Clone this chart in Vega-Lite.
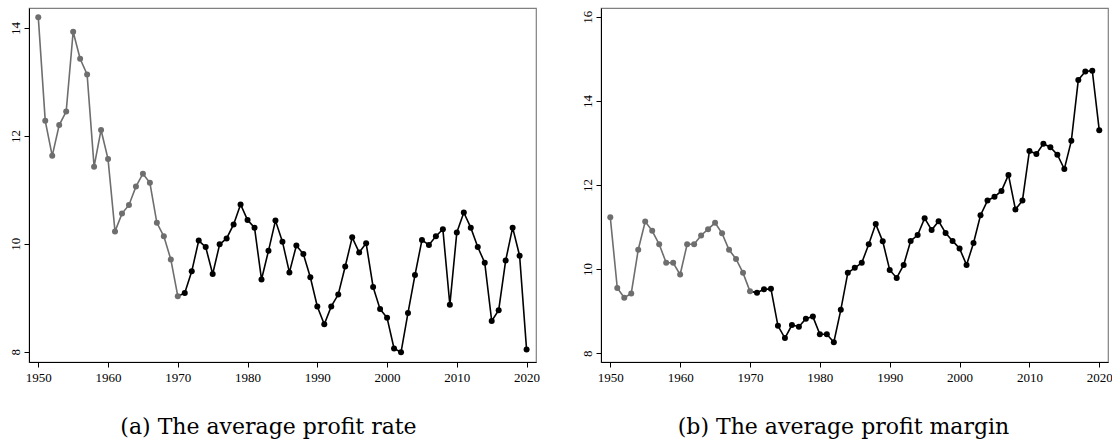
{
  "$schema": "https://vega.github.io/schema/vega-lite/v6.json",
  "padding": {"left": 8, "top": 7, "right": 0, "bottom": 0},
  "background": "white",
  "spacing": 39,
  "datasets": {
    "rate": [
      {"year": 1950, "value": 14.20, "period": "early"},
      {"year": 1951, "value": 12.28, "period": "early"},
      {"year": 1952, "value": 11.63, "period": "early"},
      {"year": 1953, "value": 12.20, "period": "early"},
      {"year": 1954, "value": 12.45, "period": "early"},
      {"year": 1955, "value": 13.93, "period": "early"},
      {"year": 1956, "value": 13.43, "period": "early"},
      {"year": 1957, "value": 13.14, "period": "early"},
      {"year": 1958, "value": 11.43, "period": "early"},
      {"year": 1959, "value": 12.11, "period": "early"},
      {"year": 1960, "value": 11.57, "period": "early"},
      {"year": 1961, "value": 10.23, "period": "early"},
      {"year": 1962, "value": 10.56, "period": "early"},
      {"year": 1963, "value": 10.72, "period": "early"},
      {"year": 1964, "value": 11.06, "period": "early"},
      {"year": 1965, "value": 11.30, "period": "early"},
      {"year": 1966, "value": 11.13, "period": "early"},
      {"year": 1967, "value": 10.39, "period": "early"},
      {"year": 1968, "value": 10.14, "period": "early"},
      {"year": 1969, "value": 9.71, "period": "early"},
      {"year": 1970, "value": 9.03, "period": "early"},
      {"year": 1970, "value": 9.03, "period": "late"},
      {"year": 1971, "value": 9.09, "period": "late"},
      {"year": 1972, "value": 9.49, "period": "late"},
      {"year": 1973, "value": 10.06, "period": "late"},
      {"year": 1974, "value": 9.94, "period": "late"},
      {"year": 1975, "value": 9.44, "period": "late"},
      {"year": 1976, "value": 9.99, "period": "late"},
      {"year": 1977, "value": 10.10, "period": "late"},
      {"year": 1978, "value": 10.36, "period": "late"},
      {"year": 1979, "value": 10.73, "period": "late"},
      {"year": 1980, "value": 10.44, "period": "late"},
      {"year": 1981, "value": 10.30, "period": "late"},
      {"year": 1982, "value": 9.34, "period": "late"},
      {"year": 1983, "value": 9.87, "period": "late"},
      {"year": 1984, "value": 10.43, "period": "late"},
      {"year": 1985, "value": 10.04, "period": "late"},
      {"year": 1986, "value": 9.47, "period": "late"},
      {"year": 1987, "value": 9.97, "period": "late"},
      {"year": 1988, "value": 9.81, "period": "late"},
      {"year": 1989, "value": 9.38, "period": "late"},
      {"year": 1990, "value": 8.84, "period": "late"},
      {"year": 1991, "value": 8.51, "period": "late"},
      {"year": 1992, "value": 8.84, "period": "late"},
      {"year": 1993, "value": 9.06, "period": "late"},
      {"year": 1994, "value": 9.58, "period": "late"},
      {"year": 1995, "value": 10.12, "period": "late"},
      {"year": 1996, "value": 9.84, "period": "late"},
      {"year": 1997, "value": 10.01, "period": "late"},
      {"year": 1998, "value": 9.20, "period": "late"},
      {"year": 1999, "value": 8.79, "period": "late"},
      {"year": 2000, "value": 8.63, "period": "late"},
      {"year": 2001, "value": 8.06, "period": "late"},
      {"year": 2002, "value": 7.99, "period": "late"},
      {"year": 2003, "value": 8.72, "period": "late"},
      {"year": 2004, "value": 9.42, "period": "late"},
      {"year": 2005, "value": 10.07, "period": "late"},
      {"year": 2006, "value": 9.98, "period": "late"},
      {"year": 2007, "value": 10.14, "period": "late"},
      {"year": 2008, "value": 10.27, "period": "late"},
      {"year": 2009, "value": 8.87, "period": "late"},
      {"year": 2010, "value": 10.21, "period": "late"},
      {"year": 2011, "value": 10.58, "period": "late"},
      {"year": 2012, "value": 10.30, "period": "late"},
      {"year": 2013, "value": 9.94, "period": "late"},
      {"year": 2014, "value": 9.65, "period": "late"},
      {"year": 2015, "value": 8.57, "period": "late"},
      {"year": 2016, "value": 8.77, "period": "late"},
      {"year": 2017, "value": 9.69, "period": "late"},
      {"year": 2018, "value": 10.30, "period": "late"},
      {"year": 2019, "value": 9.78, "period": "late"},
      {"year": 2020, "value": 8.04, "period": "late"}
    ],
    "margin": [
      {"year": 1950, "value": 11.23, "period": "early"},
      {"year": 1951, "value": 9.55, "period": "early"},
      {"year": 1952, "value": 9.32, "period": "early"},
      {"year": 1953, "value": 9.42, "period": "early"},
      {"year": 1954, "value": 10.46, "period": "early"},
      {"year": 1955, "value": 11.13, "period": "early"},
      {"year": 1956, "value": 10.91, "period": "early"},
      {"year": 1957, "value": 10.59, "period": "early"},
      {"year": 1958, "value": 10.15, "period": "early"},
      {"year": 1959, "value": 10.15, "period": "early"},
      {"year": 1960, "value": 9.87, "period": "early"},
      {"year": 1961, "value": 10.59, "period": "early"},
      {"year": 1962, "value": 10.59, "period": "early"},
      {"year": 1963, "value": 10.80, "period": "early"},
      {"year": 1964, "value": 10.95, "period": "early"},
      {"year": 1965, "value": 11.10, "period": "early"},
      {"year": 1966, "value": 10.85, "period": "early"},
      {"year": 1967, "value": 10.46, "period": "early"},
      {"year": 1968, "value": 10.24, "period": "early"},
      {"year": 1969, "value": 9.91, "period": "early"},
      {"year": 1970, "value": 9.47, "period": "early"},
      {"year": 1970, "value": 9.47, "period": "late"},
      {"year": 1971, "value": 9.44, "period": "late"},
      {"year": 1972, "value": 9.52, "period": "late"},
      {"year": 1973, "value": 9.53, "period": "late"},
      {"year": 1974, "value": 8.65, "period": "late"},
      {"year": 1975, "value": 8.36, "period": "late"},
      {"year": 1976, "value": 8.67, "period": "late"},
      {"year": 1977, "value": 8.63, "period": "late"},
      {"year": 1978, "value": 8.82, "period": "late"},
      {"year": 1979, "value": 8.87, "period": "late"},
      {"year": 1980, "value": 8.45, "period": "late"},
      {"year": 1981, "value": 8.45, "period": "late"},
      {"year": 1982, "value": 8.26, "period": "late"},
      {"year": 1983, "value": 9.03, "period": "late"},
      {"year": 1984, "value": 9.91, "period": "late"},
      {"year": 1985, "value": 10.03, "period": "late"},
      {"year": 1986, "value": 10.15, "period": "late"},
      {"year": 1987, "value": 10.59, "period": "late"},
      {"year": 1988, "value": 11.07, "period": "late"},
      {"year": 1989, "value": 10.66, "period": "late"},
      {"year": 1990, "value": 9.98, "period": "late"},
      {"year": 1991, "value": 9.79, "period": "late"},
      {"year": 1992, "value": 10.10, "period": "late"},
      {"year": 1993, "value": 10.67, "period": "late"},
      {"year": 1994, "value": 10.81, "period": "late"},
      {"year": 1995, "value": 11.21, "period": "late"},
      {"year": 1996, "value": 10.93, "period": "late"},
      {"year": 1997, "value": 11.14, "period": "late"},
      {"year": 1998, "value": 10.86, "period": "late"},
      {"year": 1999, "value": 10.67, "period": "late"},
      {"year": 2000, "value": 10.49, "period": "late"},
      {"year": 2001, "value": 10.10, "period": "late"},
      {"year": 2002, "value": 10.62, "period": "late"},
      {"year": 2003, "value": 11.28, "period": "late"},
      {"year": 2004, "value": 11.63, "period": "late"},
      {"year": 2005, "value": 11.72, "period": "late"},
      {"year": 2006, "value": 11.86, "period": "late"},
      {"year": 2007, "value": 12.24, "period": "late"},
      {"year": 2008, "value": 11.42, "period": "late"},
      {"year": 2009, "value": 11.63, "period": "late"},
      {"year": 2010, "value": 12.81, "period": "late"},
      {"year": 2011, "value": 12.74, "period": "late"},
      {"year": 2012, "value": 12.98, "period": "late"},
      {"year": 2013, "value": 12.90, "period": "late"},
      {"year": 2014, "value": 12.72, "period": "late"},
      {"year": 2015, "value": 12.38, "period": "late"},
      {"year": 2016, "value": 13.05, "period": "late"},
      {"year": 2017, "value": 14.50, "period": "late"},
      {"year": 2018, "value": 14.70, "period": "late"},
      {"year": 2019, "value": 14.72, "period": "late"},
      {"year": 2020, "value": 13.30, "period": "late"}
    ]
  },
  "hconcat": [
    {
      "width": 507,
      "height": 354,
      "data": {"name": "rate"},
      "title": {"text": "(a) The average profit rate", "orient": "bottom", "dx": -14},
      "encoding": {
        "x": {"field": "year", "type": "quantitative", "title": null,
              "scale": {"domain": [1948.67, 2021.35], "nice": false, "zero": false},
              "axis": {"values": [1950, 1960, 1970, 1980, 1990, 2000, 2010, 2020], "format": "d"}},
        "y": {"field": "value", "type": "quantitative", "title": null,
              "scale": {"domain": [7.81, 14.37], "nice": false, "zero": false},
              "axis": {"values": [8, 10, 12, 14], "labelAngle": -90}},
        "color": {"field": "period", "type": "nominal", "legend": null,
                  "scale": {"domain": ["early", "late"], "range": ["#6e6e6e", "#000000"]}}
      },
      "layer": [
        {"mark": {"type": "line", "strokeWidth": 1.6}, "encoding": {"detail": {"field": "period"}}},
        {"transform": [{"filter": "datum.period == 'early' || datum.year > 1970"}],
         "mark": {"type": "point", "filled": true, "opacity": 1, "size": 36}}
      ]
    },
    {
      "width": 507,
      "height": 354,
      "data": {"name": "margin"},
      "title": {"text": "(b) The average profit margin", "orient": "bottom", "dx": -11},
      "encoding": {
        "x": {"field": "year", "type": "quantitative", "title": null,
              "scale": {"domain": [1948.67, 2021.25], "nice": false, "zero": false},
              "axis": {"values": [1950, 1960, 1970, 1980, 1990, 2000, 2010, 2020], "format": "d"}},
        "y": {"field": "value", "type": "quantitative", "title": null,
              "scale": {"domain": [7.79, 16.21], "nice": false, "zero": false},
              "axis": {"values": [8, 10, 12, 14, 16], "labelAngle": -90}},
        "color": {"field": "period", "type": "nominal", "legend": null,
                  "scale": {"domain": ["early", "late"], "range": ["#6e6e6e", "#000000"]}}
      },
      "layer": [
        {"mark": {"type": "line", "strokeWidth": 1.6}, "encoding": {"detail": {"field": "period"}}},
        {"transform": [{"filter": "datum.period == 'early' || datum.year > 1970"}],
         "mark": {"type": "point", "filled": true, "opacity": 1, "size": 36}}
      ]
    }
  ],
  "resolve": {"scale": {"color": "independent"}},
  "config": {
    "view": {"stroke": "#808080", "strokeWidth": 1.2},
    "axis": {
      "grid": false,
      "labelFont": "Liberation Serif",
      "labelFontSize": 13,
      "labelColor": "#000000",
      "tickColor": "#000000",
      "domainColor": "#000000",
      "tickSize": 5,
      "labelPadding": 3
    },
    "axisY": {"labelPadding": 2},
    "axisX": {"labelPadding": 4},
    "title": {
      "font": "DejaVu Serif",
      "fontSize": 22,
      "fontWeight": "normal",
      "color": "#000000",
      "offset": 33
    }
  }
}
